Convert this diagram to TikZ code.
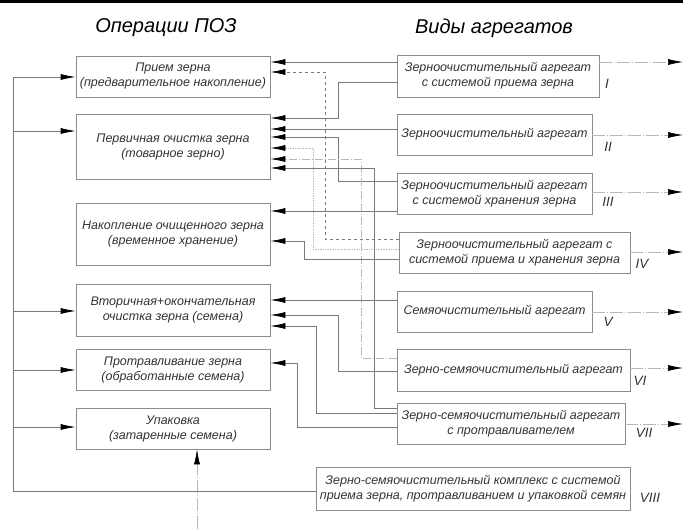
\documentclass[tikz,border=0pt]{standalone}
\usepackage{fontspec}
\setmainfont{Liberation Sans}
\usepackage{tikz}
\usetikzlibrary{arrows.meta,calc,positioning}
\definecolor{linegray}{rgb}{0.48,0.48,0.48}
\definecolor{boxgray}{rgb}{0.55,0.55,0.55}
\definecolor{inkgray}{rgb}{0.20,0.20,0.20}
\definecolor{palegray}{rgb}{0.72,0.72,0.72}
\tikzset{
  opbox/.style={draw=boxgray, line width=0.7pt, rectangle, align=center, inner sep=0pt,
    text=inkgray, font=\itshape\fontsize{12.5}{15}\selectfont},
  link/.style={draw=linegray, line width=0.7pt, -{Latex[length=15pt,width=6pt,color=black]}},
  outlink/.style={draw=palegray, line width=0.6pt, dash pattern=on 13pt off 2pt on 1pt off 2pt,
    -{Latex[length=15pt,width=6pt,color=black]}},
  roman/.style={text=inkgray, font=\itshape\fontsize{13.5}{15}\selectfont},
  heading/.style={text=black, font=\itshape\fontsize{20}{24}\selectfont},
}

\begin{document}
\begin{tikzpicture}[x=1pt, y=-1pt]
\useasboundingbox (0,0) rectangle (683,529);
\fill[black] (0,0) rectangle (683,3);

% Headings
\node[heading] (hops) at (166,28) {Операции ПОЗ};
\node[heading] (hagr) at (494,28) {Виды агрегатов};

% Operations
\begin{scope}[opbox/.append style={minimum width=194pt}]
    \node[opbox, minimum height=41pt] (priem) at (173,76.5) {Прием зерна\\(предварительное накопление)};
    \node[opbox, minimum height=65pt] (perv) at (173,146.5) {Первичная очистка зерна\\(товарное зерно)};
    \node[opbox, minimum height=62pt] (nakop) at (173,234) {Накопление очищенного зерна\\(временное хранение)};
    \node[opbox, minimum height=52pt] (vtor) at (173,310) {Вторичная+окончательная\\очистка зерна (семена)};
    \node[opbox, minimum height=41pt] (protr) at (173,369.5) {Протравливание зерна\\(обработанные семена)};
    \node[opbox, minimum height=41pt] (upak) at (173,428.5) {Упаковка\\(затаренные семена)};
\end{scope}

% Aggregates
\node[opbox, minimum width=202pt, minimum height=42pt] (agr1) at (498,76) {Зерноочистительный агрегат\\с системой приема зерна};
\node[opbox, minimum width=195pt, minimum height=41pt] (agr2) at (494.5,134.5) {Зерноочистительный агрегат};
\node[opbox, minimum width=195pt, minimum height=41pt] (agr3) at (494.5,193.5) {Зерноочистительный агрегат\\с системой хранения зерна};
\node[opbox, minimum width=231pt, minimum height=41pt] (agr4) at (514.5,252.5) {Зерноочистительный агрегат с\\системой приема и хранения зерна};
\node[opbox, minimum width=195pt, minimum height=41pt] (agr5) at (494.5,311.5) {Семяочистительный агрегат};
\node[opbox, minimum width=233pt, minimum height=42pt] (agr6) at (513.5,370) {Зерно-семяочистительный агрегат};
\node[opbox, minimum width=228pt, minimum height=41pt] (agr7) at (511,423.5) {Зерно-семяочистительный агрегат\\с протравливателем};
\node[opbox, minimum width=314pt, minimum height=43pt] (agr8) at (473,488.5) {Зерно-семяочистительный комплекс с системой\\приема зерна, протравливанием и упаковкой семян};

% Roman numbers
\node[roman] (n1) at (607,84) {I};
\node[roman] (n2) at (608,147) {II};
\node[roman] (n3) at (608,202) {III};
\node[roman] (n4) at (642,264) {IV};
\node[roman] (n5) at (608,322) {V};
\node[roman] (n6) at (640,381) {VI};
\node[roman] (n7) at (644,433) {VII};
\node[roman] (n8) at (650,498) {VIII};

% Free ends
\coordinate (edge) at (683,0);
\coordinate (bus) at (13,0);
\coordinate (vvod) at (197,529);

% Outputs
\foreach \a/\y in {agr1/62, agr2/135, agr3/192, agr4/252, agr5/312, agr6/368, agr7/424}
    \draw[outlink] (\a.east |- 0,\y) -- (edge |- 0,\y);
\draw[outlink] (vvod) -- (vvod |- upak.south);

% Common bus from the complex
\draw[linegray, line width=0.7pt] (agr8.west |- 0,491) -- (bus |- 0,491) -- (bus |- 0,77);
\foreach \o/\y in {priem/77, perv/131, vtor/311, protr/370, upak/427}
    \draw[link] (bus |- 0,\y) -- (\o.west |- 0,\y);

% Links to operations
\draw[link] (agr1.west |- 0,62) -- (priem.east |- 0,62);
\draw[link, dashed] (agr4.west |- 0,239) -| (325,72) -- (priem.east |- 0,72);
\draw[link] (agr1.west |- 0,82) -| (338,118) -- (perv.east |- 0,118);
\draw[link] (agr2.west |- 0,129) -- (perv.east |- 0,129);
\draw[link] (agr3.west |- 0,181) -| (338,137) -- (perv.east |- 0,137);
\draw[link, draw=palegray, densely dotted] (agr4.west |- 0,249) -| (313,148) -- (perv.east |- 0,148);
\draw[link, draw=palegray, dash pattern=on 8pt off 2pt on 1pt off 2pt] (agr6.west |- 0,358) -| (361,159) -- (perv.east |- 0,159);
\draw[link] (agr7.west |- 0,408) -| (374,168) -- (perv.east |- 0,168);
\draw[link] (agr3.west |- 0,211) -- (nakop.east |- 0,211);
\draw[link] (agr4.west |- 0,259) -| (304,241) -- (nakop.east |- 0,241);
\draw[link] (agr5.west |- 0,300) -- (vtor.east |- 0,300);
\draw[link] (agr6.west |- 0,371) -| (338,315) -- (vtor.east |- 0,315);
\draw[link] (agr7.west |- 0,413) -| (316,326) -- (vtor.east |- 0,326);
\draw[link] (agr7.west |- 0,427) -| (297,363) -- (protr.east |- 0,363);
\end{tikzpicture}
\end{document}
